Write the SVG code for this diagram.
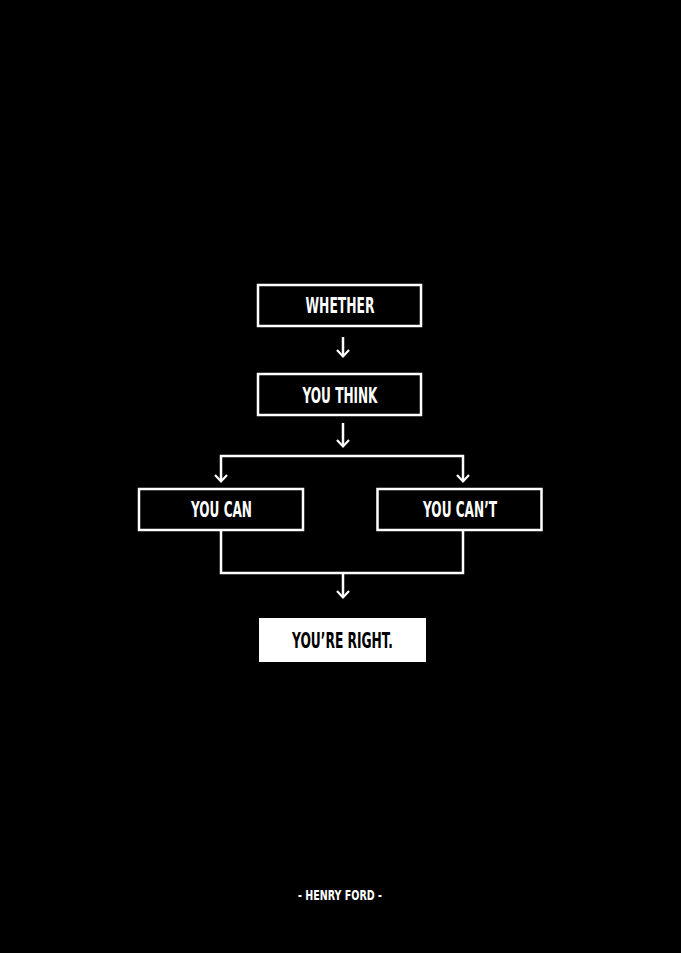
<svg xmlns="http://www.w3.org/2000/svg" width="681" height="953" viewBox="0 0 681 953">
<style>
.box{fill:none;stroke:#fff;stroke-width:2.5}
.fill{fill:#fff;stroke:none}
.t{font-family:"DejaVu Sans","Liberation Sans",sans-serif;font-weight:bold;font-size:21px;fill:#fff;text-anchor:middle}
.dark{fill:#000}
.c{fill:none;stroke:#fff;stroke-width:2.5;stroke-linecap:butt;stroke-linejoin:miter}
.h{fill:none;stroke:#fff;stroke-width:2.2}
.sig{font-family:"DejaVu Sans","Liberation Sans",sans-serif;font-weight:bold;font-size:14px;fill:#fff;text-anchor:middle}
</style>
<rect width="681" height="953" fill="#000"/>
<g id="connectors">
<path class="c" d="M343 337V356"/>
<path class="h" d="M337 350L343 356.5L349 350"/>
<path class="c" d="M343 423V446"/>
<path class="h" d="M337 440L343 446.5L349 440"/>
<path class="c" d="M221 481V456H463V481"/>
<path class="h" d="M215 475L221 481.5L227 475"/>
<path class="h" d="M457 475L463 481.5L469 475"/>
<path class="c" d="M221 531V573H463V531"/>
<path class="c" d="M343 573V597"/>
<path class="h" d="M337 591L343 597.5L349 591"/>
</g>
<g id="whether">
<rect class="box" x="258" y="285" width="163" height="41"/>
<text class="t" x="340" y="313" textLength="69" lengthAdjust="spacingAndGlyphs">WHETHER</text>
</g>
<g id="you-think">
<rect class="box" x="258" y="374" width="163" height="41"/>
<text class="t" x="340" y="403" textLength="75" lengthAdjust="spacingAndGlyphs">YOU THINK</text>
</g>
<g id="you-can">
<rect class="box" x="139" y="489" width="164" height="41"/>
<text class="t" x="221.5" y="517" textLength="61" lengthAdjust="spacingAndGlyphs">YOU CAN</text>
</g>
<g id="you-cant">
<rect class="box" x="377.5" y="489" width="164" height="41"/>
<text class="t" x="460" y="517" textLength="74" lengthAdjust="spacingAndGlyphs">YOU CAN’T</text>
</g>
<g id="youre-right">
<rect class="fill" x="259" y="618" width="167" height="44"/>
<text class="t dark" x="342.5" y="648" textLength="101" lengthAdjust="spacingAndGlyphs">YOU’RE RIGHT.</text>
</g>
<g id="author">
<text class="sig" x="340" y="900" textLength="84" lengthAdjust="spacingAndGlyphs">- HENRY FORD -</text>
</g>
</svg>
